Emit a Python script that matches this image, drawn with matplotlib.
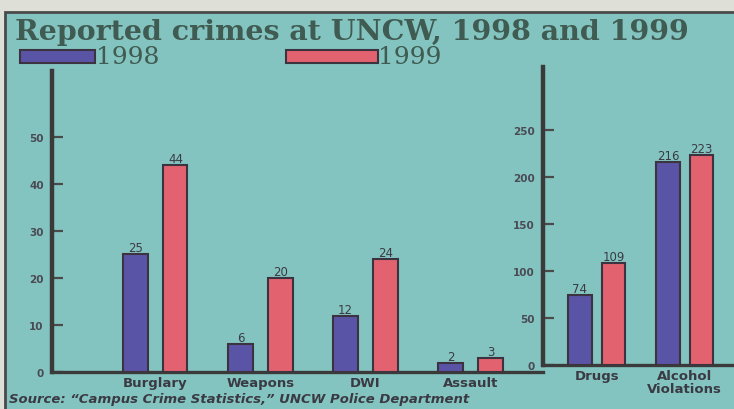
# Reported crimes at UNCW, 1998 vs 1999 -- newspaper-style grouped bars
import matplotlib
matplotlib.use("Agg")
import matplotlib.pyplot as plt
from matplotlib.patches import Rectangle

# small-count crimes (left panel)
cats_small = ["Burglary", "Weapons", "DWI", "Assault"]
small_1998 = [25, 6, 12, 2]
small_1999 = [44, 20, 24, 3]
# large-count crimes (right panel)
cats_big = ["Drugs", "Alcohol\nViolations"]
big_1998 = [74, 216]
big_1999 = [109, 223]

yticks_small = [0, 10, 20, 30, 40, 50]
yticks_big = [0, 50, 100, 150, 200, 250]
years = ["1998", "1999"]

TEAL = "#84c4c0"
BLUE = "#5a54a6"
RED = "#e2626f"
EDGE = "#3b3440"
INK = "#3a3a44"
TITLE_INK = "#3f5b52"
SANS = "DejaVu Sans"
SERIF = "DejaVu Serif"

fig = plt.figure(figsize=(7.34, 4.10), dpi=100)
fig.patch.set_facecolor("#dedfd6")

# teal panel with dark frame
bg = fig.add_axes([0, 0, 1, 1])
bg.set_xlim(0, 734)
bg.set_ylim(410, 0)
bg.axis("off")
bg.add_patch(Rectangle((5, 13), 740, 410, facecolor=TEAL, edgecolor="#4a4a4a", lw=2))

bg.text(15, 32, "Reported crimes at UNCW, 1998 and 1999", family=SERIF,
        fontweight="bold", fontsize=20.5, color=TITLE_INK, va="center", ha="left")

# legend swatches
bg.add_patch(Rectangle((20, 51), 75, 13, facecolor=BLUE, edgecolor=EDGE, lw=1.5))
bg.text(96, 58, years[0], family=SERIF, fontsize=18, color=TITLE_INK,
        va="center", ha="left")
bg.add_patch(Rectangle((286, 51), 92, 13, facecolor=RED, edgecolor=EDGE, lw=1.5))
bg.text(378, 58, years[1], family=SERIF, fontsize=18, color=TITLE_INK,
        va="center", ha="left")


def panel(rect, cats, v98, v99, yticks, ylim, xlim, width):
    ax = fig.add_axes(rect)
    ax.set_facecolor("none")
    xs = list(range(len(cats)))
    off = 0.19
    b1 = ax.bar([x - off for x in xs], v98, width, color=BLUE, edgecolor=EDGE, lw=1.5, zorder=3)
    b2 = ax.bar([x + off for x in xs], v99, width, color=RED, edgecolor=EDGE, lw=1.5, zorder=3)
    for bars in (b1, b2):
        ax.bar_label(bars, padding=0, fontsize=8.5, color=INK, family=SANS)
    ax.set_ylim(*ylim)
    ax.set_xlim(*xlim)
    ax.set_yticks(yticks)
    ax.set_yticklabels([str(t) for t in yticks], family=SANS,
                       fontsize=7.5, fontweight="bold", color="#4a4a55")
    ax.tick_params(axis="y", direction="in", length=8, width=1.6, color="#4a4a4a", pad=6)
    ax.set_xticks(xs)
    ax.set_xticklabels(cats, family=SANS, fontsize=9.5, fontweight="bold",
                       color=INK, linespacing=1.0)
    ax.tick_params(axis="x", length=0, pad=3)
    for s in ("top", "right"):
        ax.spines[s].set_visible(False)
    ax.spines["left"].set_linewidth(3.2)
    ax.spines["left"].set_color("#3a3a3a")
    ax.spines["bottom"].set_linewidth(2.4)
    ax.spines["bottom"].set_color("#3a3a3a")
    return ax


panel([52 / 734, 1 - 373 / 410, (543 - 52) / 734, (373 - 72) / 410],
      cats_small, small_1998, small_1999, yticks_small, (0, 64), (-0.985, 3.69), 0.23)
panel([543 / 734, 1 - 366 / 410, (734 - 543) / 734, (366 - 68) / 410],
      cats_big, big_1998, big_1999, yticks_big, (0, 317), (-0.61, 1.56), 0.27)

bg.text(9, 400, "Source: \u201cCampus Crime Statistics,\u201d UNCW Police Department",
        family=SANS, style="italic", fontweight="bold", fontsize=9.5,
        color=INK, va="center", ha="left")

fig.savefig("out.png", dpi=100, facecolor=fig.get_facecolor())
